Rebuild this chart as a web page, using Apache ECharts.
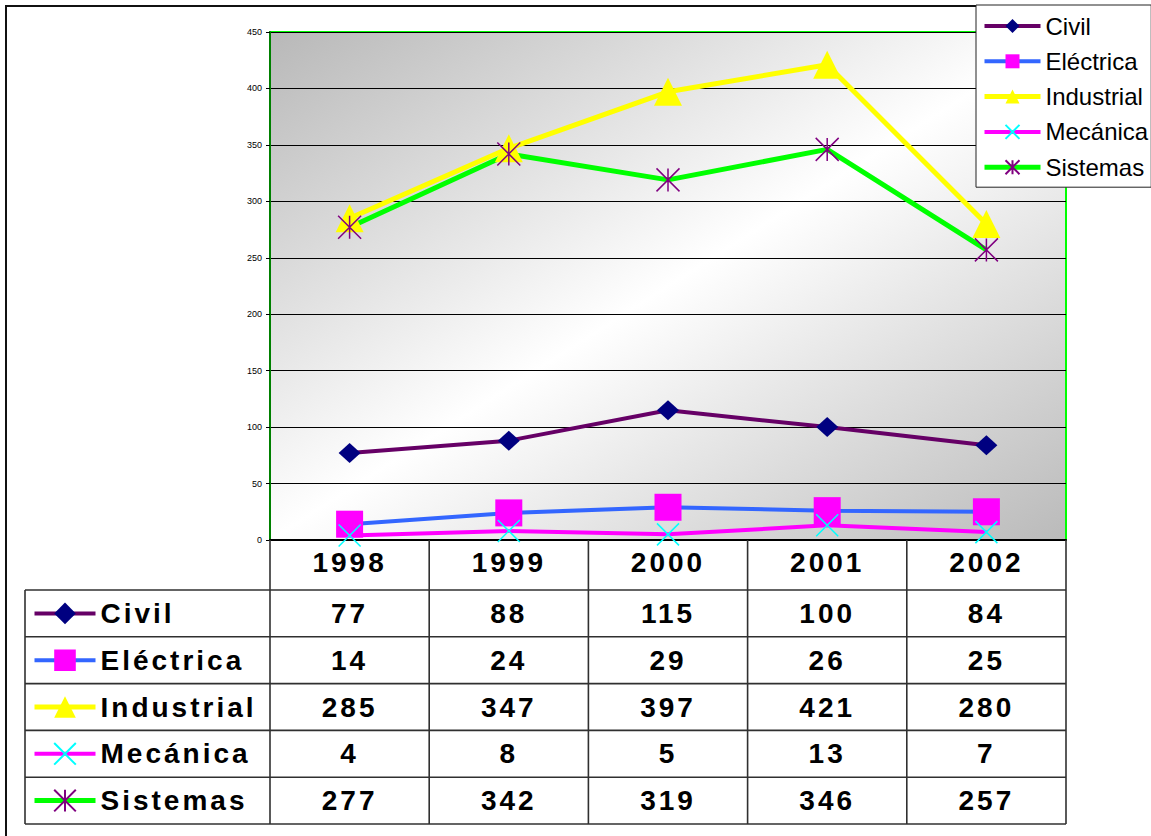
<!DOCTYPE html>
<html>
<head>
<meta charset="utf-8">
<script src="https://cdn.jsdelivr.net/npm/echarts@6/dist/echarts.min.js"></script>
<style>
  html, body { margin: 0; padding: 0; background: #fff; }
  #chart { width: 1151px; height: 836px; }
  /* the table text in the original is bold and spaced out */
  #chart text[style*="bold"] { letter-spacing: 3px; }
</style>
</head>
<body>
<div id="chart"></div>
<script>
// data (the table under the plot gives the exact numbers)
const years = ['1998', '1999', '2000', '2001', '2002'];
const seriesNames = ['Civil', 'Eléctrica', 'Industrial', 'Mecánica', 'Sistemas'];
const civil = [77, 88, 115, 100, 84];
const electrica = [14, 24, 29, 26, 25];
const industrial = [285, 347, 397, 421, 280];
const mecanica = [4, 8, 5, 13, 7];
const sistemas = [277, 342, 319, 346, 257];
const allData = [civil, electrica, industrial, mecanica, sistemas];

const yMin = 0, yMax = 450, yStep = 50;

// layout
const plotLeft = 270, plotTop = 32, plotWidth = 796, plotHeight = 508;
const plotBottom = plotTop + plotHeight, plotRight = plotLeft + plotWidth;
const tableLeft = 25, rowTop = 590, rowH = 46.8;
const FONT = '"Liberation Sans", Arial, sans-serif';
const TABLE_FONT_SIZE = 28;

const xPath = 'path://M0,0L20,20M20,0L0,20';
const starPath = 'path://M0,0L20,20M20,0L0,20M10,0L10,20';

const styles = [
  { line: '#660066', w: 4, symbol: 'diamond', size: [22, 20], fill: '#000080', stroke: '#000080', bw: 0 },
  { line: '#3366ff', w: 4, symbol: 'rect', size: 27, fill: '#ff00ff', stroke: '#ff00ff', bw: 0 },
  { line: '#ffff00', w: 5, symbol: 'triangle', size: 28, fill: '#ffff00', stroke: '#ffff00', bw: 0 },
  { line: '#ff00ff', w: 4, symbol: xPath, size: 22, fill: '#00ffff', stroke: '#00ffff', bw: 1.5 },
  { line: '#00ff00', w: 5, symbol: starPath, size: 23, fill: '#800080', stroke: '#800080', bw: 1.5 }
];

const series = seriesNames.map((name, i) => ({
  name: name,
  type: 'line',
  data: allData[i],
  symbol: styles[i].symbol,
  symbolSize: styles[i].size,
  showAllSymbol: true,
  lineStyle: { color: styles[i].line, width: styles[i].w },
  itemStyle: { color: styles[i].fill, borderColor: styles[i].stroke, borderWidth: styles[i].bw },
  emphasis: { disabled: true },
  z: 3
}));

// gradient runs across the anti-diagonal: grey corners, white band in between
const diag = Math.hypot(plotWidth, plotHeight);
const gLen = (plotWidth * plotHeight * 2) / diag;
const gDir = [plotHeight / diag, plotWidth / diag];
const plotBg = new echarts.graphic.LinearGradient(
  plotLeft, plotTop, plotLeft + gDir[0] * gLen, plotTop + gDir[1] * gLen,
  [
    { offset: 0, color: '#b8b8b8' },
    { offset: 0.5, color: '#ffffff' },
    { offset: 1, color: '#bababa' }
  ], true);

const chart = echarts.init(document.getElementById('chart'), null, { renderer: 'svg' });

chart.setOption({
  animation: false,
  backgroundColor: '#fff',
  grid: {
    left: plotLeft, top: plotTop, width: plotWidth, height: plotHeight,
    show: true, backgroundColor: plotBg, borderColor: '#00ff00', borderWidth: 2
  },
  legend: [
    {
      data: seriesNames,
      orient: 'vertical',
      left: 976, top: 5,
      backgroundColor: '#fff',
      borderColor: '#222', borderWidth: 1,
      padding: [9, 3, 8, 6],
      itemWidth: 56, itemHeight: 17.5,
      itemGap: 11.3,
      selectedMode: false,
      lineStyle: { width: 'inherit' },
      textStyle: { fontFamily: FONT, fontSize: 24, lineHeight: 24, color: '#000' }
    },
    {
      data: seriesNames,
      orient: 'vertical',
      left: 32, top: rowTop + rowH / 2 - 16,
      padding: 0,
      itemWidth: 61, itemHeight: 27,
      itemGap: rowH - 32,
      selectedMode: false,
      lineStyle: { width: 'inherit' },
      textStyle: { fontFamily: FONT, fontSize: TABLE_FONT_SIZE, fontWeight: 'bold', lineHeight: 32, color: '#000' }
    }
  ],
  xAxis: {
    type: 'category',
    data: years,
    boundaryGap: true,
    axisLine: { lineStyle: { color: '#000', width: 2 } },
    axisTick: { show: false },
    splitLine: { show: false },
    axisLabel: { margin: 8, fontFamily: FONT, fontSize: TABLE_FONT_SIZE, fontWeight: 'bold', color: '#000' }
  },
  yAxis: {
    type: 'value',
    min: yMin, max: yMax, interval: yStep,
    axisLine: { show: true, lineStyle: { color: '#008000', width: 2 } },
    axisTick: { show: true, length: 4, lineStyle: { color: '#000' } },
    splitLine: { lineStyle: { color: '#000', width: 1 } },
    axisLabel: { margin: 8, fontFamily: FONT, fontSize: 9, color: '#000' }
  },
  series: series
});

// data table under the plot, placed on the category axis positions
const xs = years.map(y => chart.convertToPixel({ xAxisIndex: 0 }, y));
const band = xs[1] - xs[0];
const tableBottom = rowTop + rowH * seriesNames.length;
const lineStyle = { stroke: '#303030', lineWidth: 1.6 };
const graphics = [];

// outer frame of the original picture
graphics.push({ type: 'rect', shape: { x: 6, y: 6, width: 1300, height: 1000 }, style: { fill: 'none', stroke: '#111', lineWidth: 2 }, z: 0, silent: true });

// vertical lines
const colEdges = [plotLeft].concat(xs.map(x => x + band / 2));
colEdges.forEach(x => {
  graphics.push({ type: 'line', shape: { x1: x, y1: plotBottom, x2: x, y2: tableBottom }, style: lineStyle, z: 10, silent: true });
});
graphics.push({ type: 'line', shape: { x1: tableLeft, y1: rowTop, x2: tableLeft, y2: tableBottom }, style: lineStyle, z: 10, silent: true });

// horizontal lines
for (let r = 0; r <= seriesNames.length; r++) {
  const y = rowTop + r * rowH;
  graphics.push({ type: 'line', shape: { x1: tableLeft, y1: y, x2: plotRight, y2: y }, style: lineStyle, z: 10, silent: true });
}

// cell values
allData.forEach((row, r) => {
  row.forEach((v, c) => {
    graphics.push({
      type: 'text',
      x: xs[c], y: rowTop + (r + 0.5) * rowH,
      style: { text: String(v), font: 'bold ' + TABLE_FONT_SIZE + 'px ' + FONT, fill: '#000', align: 'center', verticalAlign: 'middle' },
      z: 10, silent: true
    });
  });
});

chart.setOption({ graphic: graphics });
</script>
</body>
</html>
